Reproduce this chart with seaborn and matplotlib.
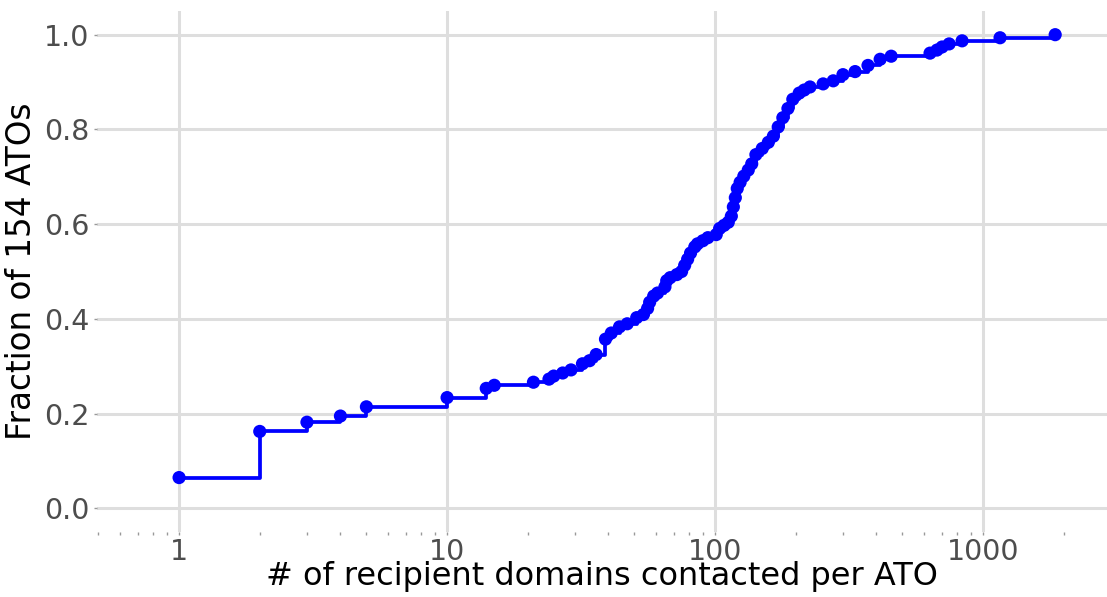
import matplotlib
matplotlib.use("Agg")
import matplotlib.pyplot as plt
from matplotlib.ticker import LogLocator, FixedLocator, FuncFormatter, NullFormatter
import seaborn as sns
import numpy as np
import pandas as pd

# recipient domains contacted per ATO (unique values) and how many ATOs had each
domains = [1, 2, 3, 4, 5, 10, 14, 15, 21, 24, 25, 27, 29, 32, 34, 36, 39, 41, 44, 47,
           51, 54, 56, 57, 59, 61, 65, 66, 68, 72, 75, 77, 79, 81, 84, 86, 90, 94,
           101, 104, 108, 112, 115, 117, 119, 121, 124, 128, 133, 137, 142, 150, 158,
           165, 172, 179, 187, 195, 206, 215, 226, 253, 276, 300, 333, 372, 413, 454,
           634, 673, 703, 747, 835, 1157, 1858]
n_atos = [10, 15, 3, 2, 3, 3, 3, 1, 1, 1, 1, 1, 1, 2, 1, 2, 5, 2, 2, 1,
          2, 1, 2, 2, 2, 1, 2, 2, 1, 1, 1, 2, 2, 2, 2, 1, 1, 1,
          1, 2, 1, 1, 2, 3, 3, 3, 2, 2, 2, 2, 3, 2, 2,
          2, 3, 3, 3, 3, 2, 1, 1, 1, 1, 2, 1, 2, 2, 1,
          1, 1, 1, 1, 1, 1, 1]
total = 154

df = pd.DataFrame({"domains": domains, "n": n_atos})
df["frac"] = df["n"].cumsum() / total

sns.set_theme(style="whitegrid")
plt.rcParams['font.family'] = ['DejaVu Sans']

fig = plt.figure(figsize=(11.07, 5.97), dpi=100)
ax = fig.add_axes([97 / 1107, 1 - 532 / 597, 1 - 97 / 1107, (532 - 11) / 597])

sns.lineplot(data=df, x="domains", y="frac", drawstyle="steps-post", color="#0000ff",
             linewidth=2.7, estimator=None, ax=ax, zorder=3)
sns.scatterplot(data=df, x="domains", y="frac", color="#0000ff", s=90, edgecolor="none",
                ax=ax, zorder=4)

ax.set_xscale("log")
ax.set_xlim(0.494, 2900)
ax.set_ylim(-0.05, 1.05)

ax.xaxis.set_major_locator(FixedLocator([1, 10, 100, 1000]))
ax.xaxis.set_major_formatter(FuncFormatter(lambda v, p: f"{int(round(v))}"))
ax.xaxis.set_minor_locator(LogLocator(base=10, subs=np.arange(2, 10)))
ax.xaxis.set_minor_formatter(NullFormatter())
ax.set_yticks([0.0, 0.2, 0.4, 0.6, 0.8, 1.0])
ax.yaxis.set_major_formatter(FuncFormatter(lambda v, p: f"{v:.1f}"))

ax.set_facecolor("white")
for s in ax.spines.values():
    s.set_visible(False)
ax.grid(True, which="major", color="#dedede", linewidth=2.2)
ax.grid(False, which="minor")

ax.tick_params(axis="both", which="major", labelsize=20.5, labelcolor="#4d4d4d",
               color="#999999", length=2.5, width=1, direction="out")
ax.tick_params(axis="x", which="major", bottom=True, pad=2)
ax.tick_params(axis="y", which="major", left=True, pad=3)
ax.tick_params(axis="x", which="minor", bottom=True, color="#999999", length=2.5, width=1)

ax.set_xlabel("# of recipient domains contacted per ATO", fontsize=23, color="black", labelpad=-4)
ax.set_ylabel("Fraction of 154 ATOs", fontsize=23.5, color="black", labelpad=4)

fig.savefig("out.png", dpi=100)
plt.close()
